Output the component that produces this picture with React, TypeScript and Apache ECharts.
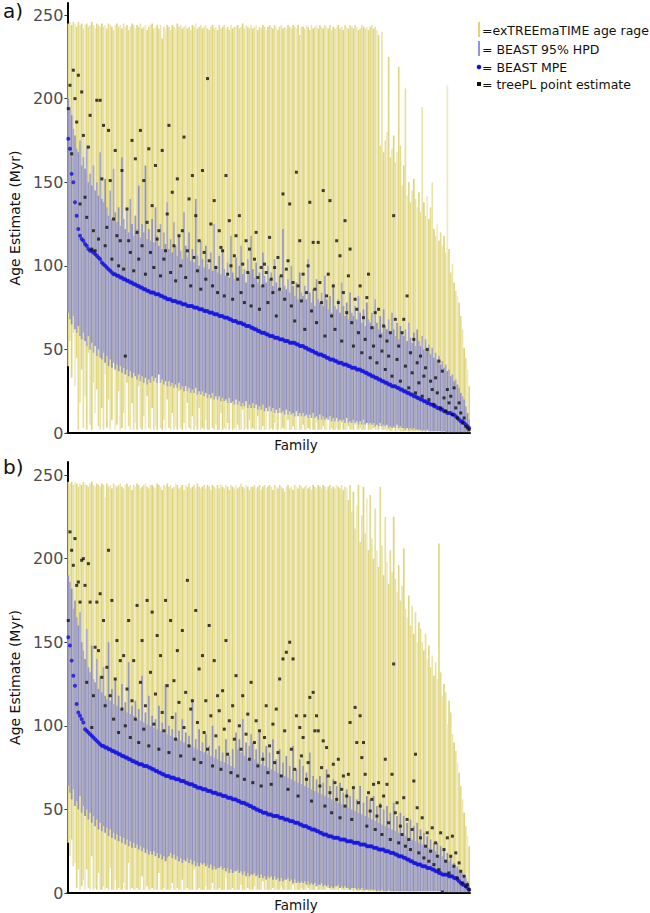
import React, { useEffect, useRef } from "react";
import * as echarts from "echarts";

// ---------- Data (240 families per panel, sorted by BEAST MPE) ----------
const FAMILIES = Array.from({ length: 240 }, (_, i) => "Family " + (i + 1));
const Y_TICKS = [0, 50, 100, 150, 200, 250];
const LEGEND_LABELS = [
  "=exTREEmaTIME age rage",
  "= BEAST 95% HPD",
  "= BEAST MPE",
  "= treePL point estimate",
];

// ----- Panel a -----
const A_EXT_HI = [
  245,246,244,246,245,243,246,244,245,242, 244,245,243,244,246,244,242,245,244,243,
  245,243,244,242,245,244,243,241,244,245, 243,244,242,245,243,244,241,243,245,244,
  242,244,243,245,242,243,244,241,243,244, 245,242,243,244,242,244,236,243,242,244,
  243,241,244,243,242,245,243,244,242,243, 244,242,243,241,244,243,245,242,243,244,
  242,243,244,242,241,243,244,242,243,241, 244,242,243,244,242,243,241,244,242,243,
  243,244,242,243,245,242,244,243,242,244, 242,243,244,241,243,242,244,243,241,243,
  244,243,242,244,243,241,243,244,242,243, 242,244,243,242,244,243,242,244,238,243,
  243,242,244,243,241,244,242,243,244,242, 244,243,242,244,243,242,244,241,243,242,
  243,244,242,243,241,244,243,242,244,243, 242,244,243,241,242,244,243,242,243,241,
  243,244,242,243,241,238,172,240,168,175, 180,225,165,170,178,162,168,219,172,148,
  160,206,142,150,138,145,152,140,135,144, 132,195,138,130,142,128,135,150,122,118,
  125,115,120,112,118,108,208,110,96,101, 90,85,82,78,70,62,51,45,38,28,
];
const A_EXT_LO = [
  40,55,33,60,28,45,2,18,38,3, 22,2,48,5,2,30,12,26,4,2,
  15,2,35,3,20,2,8,42,2,5, 25,2,3,12,2,30,4,2,18,2,
  6,2,28,3,2,10,2,22,3,2, 15,2,4,2,35,3,2,8,2,20,
  3,2,12,2,4,2,25,3,2,6, 2,18,3,2,10,2,4,2,15,2,
  3,2,8,2,2,20,3,2,5,2, 2,12,2,3,2,6,2,18,2,3,
  2,5,2,2,14,2,3,2,8,2, 3,2,2,10,2,2,4,2,2,16,
  2,3,2,6,2,2,12,2,3,2, 2,8,2,2,4,2,2,14,2,2,
  5,2,2,3,2,10,2,2,6,2, 2,2,4,2,2,8,2,3,2,2,
  3,2,2,6,2,2,2,4,2,2, 2,5,2,2,3,2,2,2,6,2,
  2,2,3,2,2,2,4,2,2,2, 1,2,1,1,3,1,1,2,1,1,
  1,1,1,1,1,1,1,1,1,1, 1,1,1,1,1,1,1,1,1,1,
  1,1,1,1,1,1,1,1,1,1, 1,1,1,1,1,1,1,1,1,1,
];
const A_HPD_HI = [
  200,195,190,182,178,170,168,175,160,165, 158,172,150,155,148,160,145,150,142,168,
  140,138,152,135,130,145,128,158,132,126, 135,124,165,128,122,134,120,140,125,118,
  130,122,148,117,125,120,160,116,122,115, 128,114,135,118,112,125,110,120,113,138,
  110,116,108,126,112,106,118,109,104,132, 112,105,120,103,110,102,140,106,100,115,
  104,99,112,101,98,108,97,125,100,96, 106,95,110,98,94,102,93,118,96,92,
  105,92,100,112,95,98,90,104,96,118, 98,93,102,90,96,88,108,94,90,100,
  92,96,88,104,90,86,94,85,122,88, 86,92,84,100,88,82,90,80,96,84,
  82,88,80,104,84,78,86,76,92,80, 78,84,76,94,80,74,82,72,88,76,
  74,80,72,90,76,70,78,68,84,72, 70,76,68,82,72,66,74,64,78,68,
  66,72,64,80,66,62,70,60,74,64, 62,68,60,72,62,58,66,56,64,60,
  58,62,55,66,57,54,60,52,62,55, 52,58,50,56,50,53,47,51,45,48,
  44,46,41,43,39,41,37,38,34,35, 31,32,29,27,24,22,20,16,12,8,
];
const A_HPD_LO = [
  72,68,65,70,62,60,64,58,56,60, 55,52,58,50,54,48,52,46,50,45,
  44,48,42,46,40,44,39,42,38,41, 37,40,36,39,35,38,34,37,33,36,
  34,32,35,31,34,30,33,29,32,30, 34,31,33,30,35,30,32,29,31,28,
  31,28,30,27,29,27,30,26,28,25, 28,25,27,24,26,24,27,23,25,23,
  25,22,24,21,23,21,24,20,22,20, 22,19,21,19,20,18,21,18,19,17,
  20,17,19,16,18,16,19,15,17,15, 18,15,17,14,16,14,17,13,15,13,
  16,13,15,12,14,12,15,12,13,11, 14,11,13,11,12,10,13,10,12,10,
  12,10,11,9,11,9,12,9,10,8, 11,8,10,8,9,8,10,7,9,7,
  9,7,8,7,8,6,9,6,7,6, 8,6,7,5,7,5,8,5,6,5,
  6,5,6,4,5,4,6,4,5,4, 5,3,4,3,4,3,5,3,4,3,
  3,2,3,2,3,2,3,2,2,2, 2,1,2,1,2,1,1,1,1,1,
  1,1,1,0.5,1,0.5,0.5,0.5,0.5,0.5, 0.5,0.5,0.5,0.5,0.5,0.5,0.5,0.5,0.5,0.5,
];
const A_MPE = [
  176,170,155,150,138,130,122,118,116,115, 113,112,110,109,109,108,107,106,105,104,
  102,101,100,99,98,97,96,95,95,94, 94,93,93,92,92,91,91,90,90,89,
  89,88,88,87,87,86,86,85,85,84, 84,84,83,83,83,82,82,81,81,80,
  80,80,79,79,79,78,78,78,77,77, 77,76,76,76,76,75,75,75,74,74,
  74,73,73,73,72,72,72,71,71,71, 70,70,70,69,69,69,68,68,67,67,
  67,66,66,66,65,65,64,64,64,63, 63,62,62,61,61,60,60,60,59,59,
  58,58,58,57,57,57,56,56,56,55, 55,55,54,54,54,54,53,53,52,52,
  52,51,51,50,50,49,49,48,48,47, 47,47,46,46,45,45,44,44,44,43,
  43,42,42,42,41,41,41,40,40,39, 39,39,38,38,38,37,37,36,36,35,
  35,34,34,33,33,32,32,31,31,30, 30,29,29,28,28,28,27,27,26,26,
  25,25,24,24,23,23,22,22,21,21, 20,20,19,19,18,18,17,17,16,16,
  15,15,14,14,13,13,12,12,12,11, 11,10,9,8,7,7,6,5,4,3,
];
const A_TREEPL = [
  194,208,167,217,200,186,214,137,204,178, 141,129,171,190,110,121,109,199,116,199,
  152,184,112,123,181,151,104,128,169,118, 100,115,157,98,46,134,115,108,175,97,
  164,120,104,181,112,151,95,126,170,108, 136,99,160,116,121,94,169,104,109,131,
  184,96,144,112,91,152,118,100,121,177, 93,109,140,88,154,105,130,97,115,86,
  157,108,92,212,103,125,88,139,99,84, 121,111,109,82,154,95,127,100,80,106,
  118,92,130,84,101,78,115,96,110,76, 88,104,120,93,74,99,88,101,96,78,
  117,92,84,99,70,105,86,94,143,80, 98,103,137,76,90,67,156,88,115,79,
  95,62,84,100,138,73,114,86,66,114, 90,78,145,58,82,95,139,70,88,62,
  115,78,106,55,84,127,72,94,110,66, 52,80,74,60,88,48,69,56,81,95,
  45,63,52,72,42,74,58,49,64,38, 55,46,60,34,130,68,44,52,31,60,
  68,40,82,27,48,36,56,24,42,30, 46,22,34,39,50,20,31,26,17,33,
  24,43,15,37,21,13,26,18,22,11, 27,15,9,18,12,6,9,4,3,2,
];

// ----- Panel b -----
const B_EXT_HI = [
  246,245,246,244,246,245,243,245,244,246, 245,244,243,245,246,244,243,245,244,243,
  245,244,237,245,243,244,242,245,244,243, 244,245,243,242,244,245,243,244,241,244,
  243,245,244,242,243,244,245,243,242,244, 244,243,242,245,244,243,241,244,243,245,
  243,244,242,243,245,244,242,243,244,241, 244,243,245,242,243,244,242,245,243,242,
  243,244,242,244,243,241,244,243,242,244, 242,244,243,242,244,243,241,244,243,242,
  244,242,243,245,243,242,244,243,241,243, 243,244,242,243,244,241,243,244,242,243,
  244,243,241,244,243,242,244,243,242,240, 243,244,242,243,241,244,243,242,244,243,
  242,243,244,242,243,241,244,243,242,244, 243,242,244,243,241,243,244,242,243,242,
  244,243,242,244,241,243,242,235,244,228, 240,218,232,244,210,226,243,215,236,205,
  238,212,200,230,205,195,243,208,190,225, 198,185,205,192,225,188,180,196,175,184,
  206,170,165,178,160,172,155,168,150,162, 158,150,145,155,140,148,135,142,130,138,
  128,209,132,118,125,120,101,115,108,95, 90,85,78,72,64,56,48,40,34,28,
];
const B_EXT_LO = [
  30,22,32,16,18,3,14,2,4,8, 2,14,3,2,22,2,3,2,12,2,
  2,4,2,3,2,15,2,2,8,2, 3,2,2,6,2,2,18,2,3,2,
  2,3,2,2,10,2,2,4,2,2, 3,2,2,2,12,2,2,3,2,2,
  2,2,6,2,2,3,2,2,8,2, 2,3,2,2,2,14,2,2,3,2,
  2,2,4,2,2,2,6,2,2,2, 3,2,2,2,9,2,2,2,3,2,
  2,2,2,5,2,2,2,3,2,2, 2,4,2,2,2,2,7,2,2,2,
  2,2,3,2,2,2,2,4,2,2, 2,2,2,2,5,2,2,2,2,3,
  2,2,2,3,2,2,2,2,4,2, 2,2,2,2,2,3,2,2,2,2,
  2,2,3,2,2,2,2,2,2,2, 1,2,1,1,2,1,1,1,2,1,
  1,1,1,1,1,1,1,1,1,1, 1,1,1,1,1,1,1,1,1,1,
  1,1,1,1,1,1,1,1,1,1, 1,1,1,1,1,1,1,1,1,1,
  1,1,1,1,1,1,1,1,1,1, 1,1,1,1,1,1,1,1,1,1,
];
const B_HPD_HI = [
  190,186,182,170,175,165,160,168,150,145, 140,158,135,132,148,128,126,140,122,130,
  120,135,118,116,150,115,122,113,128,112, 118,110,125,109,114,108,138,107,112,106,
  115,104,110,103,130,102,108,101,118,100, 106,99,104,98,112,97,102,96,125,95,
  100,94,98,93,108,92,97,91,104,90, 96,89,94,88,115,87,92,86,98,85,
  90,84,95,83,88,82,100,81,86,80, 88,79,84,78,92,77,82,76,86,75,
  96,86,92,84,104,82,90,80,88,95, 90,80,86,78,96,77,84,76,88,75,
  84,74,92,73,80,72,86,71,78,70, 82,69,76,68,88,67,74,66,80,65,
  76,64,72,63,84,62,70,61,68,60, 70,59,66,58,74,57,64,56,68,55,
  64,54,66,53,60,52,62,51,58,50, 62,49,56,48,64,47,54,46,58,45,
  56,44,58,43,52,42,54,41,50,40, 52,39,48,38,54,37,46,36,48,35,
  46,34,42,33,44,32,40,31,42,30, 38,29,36,28,34,27,32,26,30,25,
  30,23,28,22,26,20,24,19,22,17, 18,15,16,14,13,12,11,9,7,5,
];
const B_HPD_LO = [
  64,60,56,62,52,55,50,58,48,52, 46,50,44,48,42,46,40,44,38,42,
  37,40,36,39,34,38,33,36,32,35, 31,34,30,33,29,32,28,31,27,30,
  27,29,26,28,25,27,24,26,23,25, 23,25,22,24,21,23,20,22,19,21,
  22,24,21,23,20,22,19,21,18,20, 19,21,18,20,17,19,16,18,16,18,
  17,18,16,17,15,17,14,16,14,15, 15,16,14,15,13,15,12,14,12,13,
  13,14,12,13,11,13,10,12,10,11, 11,12,10,11,9,11,9,10,8,10,
  9,10,8,10,8,9,7,9,7,8, 8,9,7,8,6,8,6,7,6,7,
  6,7,5,7,5,6,5,6,4,5, 5,6,4,5,4,5,3,4,3,4,
  4,5,3,4,3,4,3,3,2,3, 3,3,2,3,2,3,2,2,2,2,
  2,2,2,2,1,2,1,2,1,1, 1,2,1,1,1,1,1,1,1,1,
  1,1,1,1,1,1,1,1,1,1, 1,1,1,1,1,1,1,1,1,1,
  1,1,1,0.5,0.5,0.5,0.5,0.5,0.5,0.5, 0.5,0.5,0.5,0.5,0.5,0.5,0.5,0.5,0.5,0.5,
];
const B_MPE = [
  153,148,139,130,124,113,108,106,104,102, 98,97,96,95,94,93,92,91,90,89,
  88,88,87,87,86,86,85,85,84,84, 83,83,82,82,81,81,80,80,79,79,
  78,78,77,77,77,76,76,76,75,75, 74,74,73,73,72,72,71,71,70,70,
  70,69,69,69,68,68,68,67,67,67, 66,66,65,65,65,64,64,63,63,63,
  62,62,62,61,61,61,60,60,60,59, 59,59,58,58,58,57,57,57,56,56,
  56,55,55,54,54,54,53,53,52,52, 51,51,50,50,49,49,48,48,48,47,
  47,47,46,46,46,46,45,45,45,44, 44,44,43,43,43,42,42,42,41,41,
  40,40,40,39,39,38,38,38,37,37, 36,36,35,35,35,34,34,34,33,33,
  33,33,32,32,32,32,31,31,31,31, 30,30,30,30,29,29,29,29,28,28,
  28,28,27,27,27,26,26,26,26,25, 25,25,24,24,24,23,23,22,22,22,
  21,21,20,20,19,19,18,18,17,17, 17,16,16,16,15,15,15,14,14,13,
  13,12,12,11,11,11,11,10,10,10, 9,9,8,7,6,5,5,4,3,2,
];
const B_TREEPL = [
  163,216,205,196,212,184,186,174,199,200, 184,126,197,174,99,118,147,174,145,179,
  129,163,112,135,205,118,175,104,128,151, 96,139,110,142,100,122,163,93,115,139,
  104,172,90,126,151,98,112,175,88,132, 168,101,119,154,86,142,108,97,175,124,
  84,163,105,127,92,145,114,82,157,99, 120,187,88,110,115,80,169,102,134,78,
  142,96,115,86,160,106,76,139,94,118, 109,74,121,98,151,83,103,72,112,92,
  130,70,100,86,118,68,95,107,80,126, 66,90,103,76,97,64,80,93,112,72,
  88,65,101,78,110,84,128,70,140,97, 144,62,150,86,140,74,106,58,99,82,
  93,106,68,78,117,55,120,97,106,97, 64,75,91,52,87,70,60,48,77,66,
  56,80,45,62,70,52,58,71,102,44, 63,111,90,54,106,81,90,71,40,60,
  49,56,65,38,46,66,52,35,58,80, 65,42,32,71,137,48,54,30,40,35,
  57,28,44,32,26,38,67,83,51,24, 33,45,21,28,36,19,25,39,17,30,
  22,14,36,0.6,26,19,33,12,22,34, 16,24,9,18,13,6,10,4,5,2,
];

// ---------- Styling ----------
const FONT = "DejaVu Sans";
const YELLOWS = ["#E4DC8C", "#EAE4AA", "#DED47A", "#E7E09C", "#EFEAC0", "#E1D783"];
const HPD_COLS = ["#9898C0", "#A4A4CA", "#9090BB", "#A9A9CD"];

function rangeData(lo: number[], hi: number[]) {
  return lo.map((v, i) => [i, v, hi[i]]);
}

function makeRange(colors: string[], frac: number) {
  return function (params: any, api: any) {
    const i = api.value(0);
    const p0 = api.coord([i, api.value(1)]);
    const p1 = api.coord([i, api.value(2)]);
    const w = api.size([1, 0])[0] * frac;
    return {
      type: "rect",
      shape: { x: p0[0] - w / 2, y: p1[1], width: w, height: Math.max(p0[1] - p1[1], 0.5) },
      style: { fill: colors[params.dataIndex % colors.length] },
    };
  };
}

function panelSeries(k: number, lo: number[], hi: number[], hlo: number[], hhi: number[], mpe: number[], tpl: number[]) {
  return [
    {
      type: "custom", xAxisIndex: k, yAxisIndex: k,
      data: rangeData(lo, hi), encode: { x: 0, y: [1, 2] },
      renderItem: makeRange(YELLOWS, 1.0), silent: true, z: 1,
    },
    {
      type: "custom", xAxisIndex: k, yAxisIndex: k,
      data: rangeData(hlo, hhi), encode: { x: 0, y: [1, 2] },
      renderItem: makeRange(HPD_COLS, 1.0), silent: true, z: 2,
    },
    {
      type: "scatter", xAxisIndex: k, yAxisIndex: k, data: mpe,
      symbol: "circle", symbolSize: 4, itemStyle: { color: "#1212E0" }, silent: true, z: 3,
    },
    {
      type: "scatter", xAxisIndex: k, yAxisIndex: k, data: tpl,
      symbol: "rect", symbolSize: 3, itemStyle: { color: "#111111" }, silent: true, z: 4,
    },
  ];
}

function xAxisFor(k: number) {
  return {
    gridIndex: k, type: "category", data: FAMILIES, boundaryGap: true,
    axisLine: { show: true, lineStyle: { color: "#000", width: 2 } },
    axisTick: { show: false }, axisLabel: { show: false }, splitLine: { show: false },
  };
}

function yAxisFor(k: number, max: number) {
  return {
    gridIndex: k, type: "value", min: 0, max,
    axisLine: { show: true, lineStyle: { color: "#000", width: 2 } },
    axisTick: { show: true, length: 3, lineStyle: { color: "#333", width: 1 }, customValues: Y_TICKS },
    axisLabel: { customValues: Y_TICKS, fontSize: 16, color: "#4d4d4d", fontFamily: FONT, margin: 4 },
    splitLine: { show: false },
    name: "Age Estimate (Myr)", nameLocation: "middle", nameGap: 38,
    nameTextStyle: { fontSize: 14, color: "#111", fontFamily: FONT },
  };
}

function legendGraphics() {
  const ys = [30, 49, 67, 84];
  const els: any[] = [];
  els.push({ type: "line", shape: { x1: 479, y1: 22, x2: 479, y2: 37 }, style: { stroke: "#D6C646", lineWidth: 1.5 } });
  els.push({ type: "line", shape: { x1: 479, y1: 41, x2: 479, y2: 56 }, style: { stroke: "#6E6EE0", lineWidth: 1.5 } });
  els.push({ type: "circle", shape: { cx: 479, cy: 67, r: 2.3 }, style: { fill: "#1212E0" } });
  els.push({ type: "rect", shape: { x: 477, y: 82, width: 4, height: 4 }, style: { fill: "#111" } });
  LEGEND_LABELS.forEach((t, i) => {
    els.push({
      type: "text", x: 482, y: ys[i],
      style: { text: t, fill: "#111", font: `12.5px "${FONT}"`, textVerticalAlign: "middle", textAlign: "left" },
    });
  });
  return els;
}

export default function App() {
  const ref = useRef<HTMLDivElement>(null);
  useEffect(() => {
    if (!ref.current) return;
    const chart = echarts.init(ref.current, undefined, { renderer: "svg" });
    const option: any = {
      animation: false,
      backgroundColor: "#ffffff",
      grid: [
        { left: 65, top: 3, width: 405, height: 430 },
        { left: 65, top: 462, width: 405, height: 431 },
      ],
      xAxis: [xAxisFor(0), xAxisFor(1)],
      yAxis: [yAxisFor(0, 257.2), yAxisFor(1, 257.8)],
      series: [
        ...panelSeries(0, A_EXT_LO, A_EXT_HI, A_HPD_LO, A_HPD_HI, A_MPE, A_TREEPL),
        ...panelSeries(1, B_EXT_LO, B_EXT_HI, B_HPD_LO, B_HPD_HI, B_MPE, B_TREEPL),
      ],
      graphic: [
        { type: "text", x: 3, y: 11, style: { text: "a)", fill: "#111", font: `20px "${FONT}"`, textVerticalAlign: "middle" } },
        { type: "text", x: 3, y: 467, style: { text: "b)", fill: "#111", font: `20px "${FONT}"`, textVerticalAlign: "middle" } },
        { type: "text", x: 296, y: 445, style: { text: "Family", fill: "#111", font: `13.5px "${FONT}"`, textAlign: "center", textVerticalAlign: "middle" } },
        { type: "text", x: 296, y: 905, style: { text: "Family", fill: "#111", font: `13.5px "${FONT}"`, textAlign: "center", textVerticalAlign: "middle" } },
        ...legendGraphics(),
      ],
    };
    chart.setOption(option);
    return () => chart.dispose();
  }, []);
  return <div ref={ref} style={{ position: "absolute", left: 0, top: 0, width: 650, height: 913 }} />;
}
